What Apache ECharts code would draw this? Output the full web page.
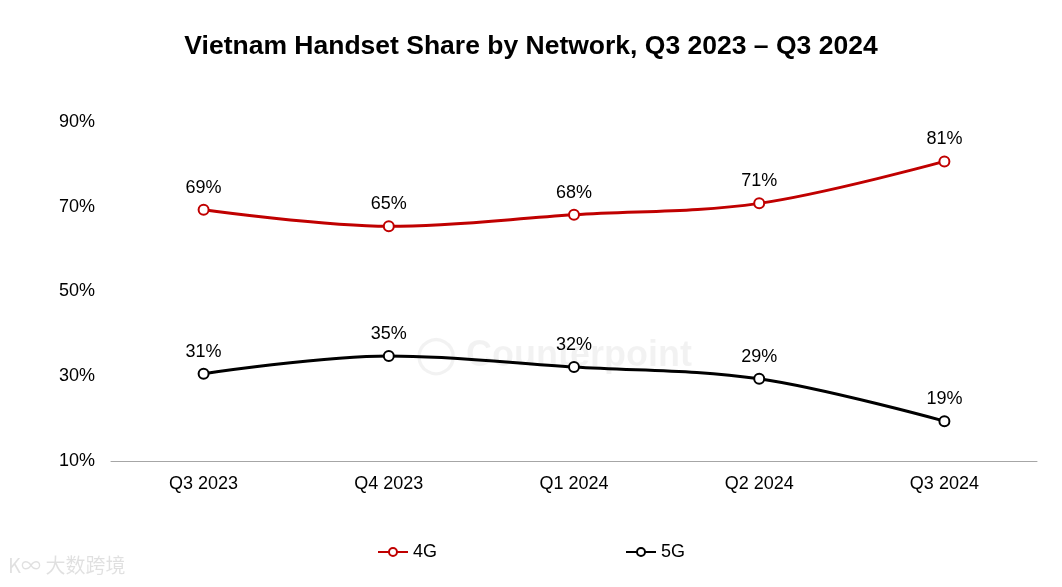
<!DOCTYPE html>
<html><head><meta charset="utf-8">
<script src="https://cdn.jsdelivr.net/npm/echarts@6/dist/echarts.min.js"></script>
<style>html,body{margin:0;padding:0;background:#fff}#c{width:1062px;height:587px}</style>
</head><body><div id="c"></div>
<script>
const categories = ['Q3 2023','Q4 2023','Q1 2024','Q2 2024','Q3 2024'];
const share4G = [69.3, 65.4, 68.1, 70.8, 80.7];
const share5G = [30.6, 34.8, 32.2, 29.4, 19.4];
const yTicks = [10, 30, 50, 70, 90];

const chart = echarts.init(document.getElementById('c'));
const FONT = 'Liberation Sans, Arial, sans-serif';
const lbl = {show:true, position:'top', distance:7, color:'#000', fontSize:18, fontFamily:FONT,
  formatter: p => Math.round(p.value) + '%'};
chart.setOption({
  animation:false,
  backgroundColor:'#fff',
  title:{text:'Vietnam Handset Share by Network, Q3 2023 – Q3 2024', left:'center', top:28,
    textStyle:{fontFamily:FONT, fontWeight:'bold', fontSize:26.5, color:'#000'}},
  graphic:[
    {type:'text', left:416, top:338, style:{text:'◯ Counterpoint', fontSize:36, fontWeight:'bold', fontFamily:FONT, fill:'rgba(0,0,0,0.05)'}, z:-1},
    {type:'text', left:8, top:555, style:{text:'K∞ 大数跨境', fontSize:20, fontFamily:'Noto Sans CJK SC, sans-serif', fill:'rgba(0,0,0,0.12)'}, z:-1}
  ],
  legend:{bottom:21, left:'center', itemGap:188, itemWidth:30, itemHeight:10,
    textStyle:{fontFamily:FONT, fontSize:18, color:'#000'},
    data:['4G','5G']},
  grid:{left:111, right:25, top:122, bottom:126},
  xAxis:{type:'category', data:categories, boundaryGap:true,
    axisLine:{lineStyle:{color:'#a6a6a6', width:1}}, axisTick:{show:false},
    axisLabel:{color:'#000', fontSize:18, fontFamily:FONT, margin:14}},
  yAxis:{type:'value', min:yTicks[0], max:yTicks[yTicks.length-1], interval:20,
    axisLine:{show:false}, axisTick:{show:false}, splitLine:{show:false},
    axisLabel:{color:'#000', fontSize:18, fontFamily:FONT, margin:16, formatter:'{value}%'}},
  series:[
    {name:'4G', type:'line', data:share4G, smooth:0.35, symbol:'emptyCircle', symbolSize:10,
      lineStyle:{color:'#c00000', width:3}, itemStyle:{color:'#c00000', borderWidth:2.5}, label:lbl},
    {name:'5G', type:'line', data:share5G, smooth:0.35, symbol:'emptyCircle', symbolSize:10,
      lineStyle:{color:'#000', width:3}, itemStyle:{color:'#000', borderWidth:2.5}, label:lbl}
  ]
});
</script></body></html>
